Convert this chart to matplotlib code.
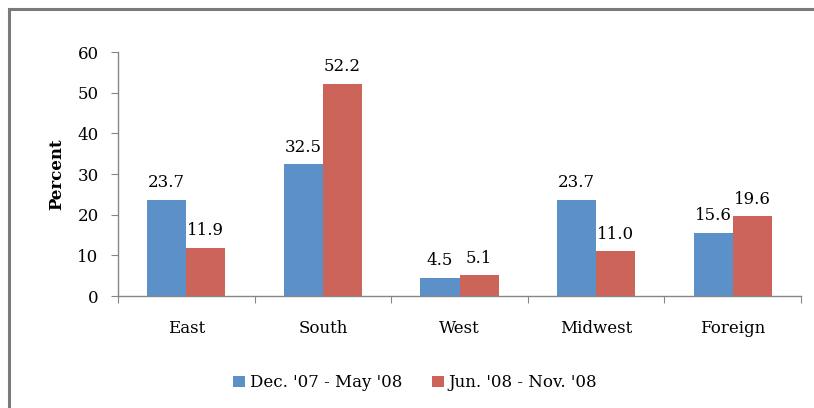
import matplotlib
matplotlib.use("Agg")
import matplotlib.pyplot as plt
from matplotlib.lines import Line2D
from matplotlib.patches import Patch
import numpy as np

categories = ["East", "South", "West", "Midwest", "Foreign"]
series_names = ["Dec. '07 - May '08", "Jun. '08 - Nov. '08"]
period1 = [23.7, 32.5, 4.5, 23.7, 15.6]
period2 = [11.9, 52.2, 5.1, 11.0, 19.6]
yticks = [0, 10, 20, 30, 40, 50, 60]

colors = ["#5B90C8", "#CC645A"]
font = ["DejaVu Serif"]
plt.rcParams["font.family"] = font
fs = 12

fig = plt.figure(figsize=(8.14, 4.08), dpi=100)
ax = fig.add_axes([0.145, 0.2745, 0.839, 0.598])

x = np.arange(len(categories))
w = 1 / 3.5
b1 = ax.bar(x - w / 2, period1, width=w, color=colors[0], edgecolor="none")
b2 = ax.bar(x + w / 2, period2, width=w, color=colors[1], edgecolor="none")
for bars, vals in ((b1, period1), (b2, period2)):
    for r, v in zip(bars, vals):
        ax.annotate(f"{v:.1f}", (r.get_x() + r.get_width() / 2, v), xytext=(0, 6),
                    textcoords="offset points", ha="center", va="bottom", fontsize=fs)

ax.set_xlim(-0.5, len(categories) - 0.5)
ax.set_ylim(0, 60)
ax.set_yticks(yticks)
ax.set_yticklabels([str(t) for t in yticks], fontsize=fs)
ax.set_xticks(np.arange(len(categories) + 1) - 0.5)
ax.set_xticklabels([])
ax.set_xticks(x, minor=True)
ax.set_xticklabels(categories, minor=True, fontsize=fs)
ax.tick_params(axis="x", which="minor", length=0, pad=17)
ax.tick_params(axis="x", which="major", length=5, color="#868686", direction="out")
ax.tick_params(axis="y", length=5, color="#868686", direction="out", pad=9)
for s in ["top", "right"]:
    ax.spines[s].set_visible(False)
for s in ["left", "bottom"]:
    ax.spines[s].set_color("#868686")
    ax.spines[s].set_linewidth(1.0)
ax.set_ylabel("Percent", fontsize=fs, fontweight="bold", labelpad=9)

handles = [Patch(facecolor=c, edgecolor="none") for c in colors]
fig.legend(handles, series_names, loc="center", bbox_to_anchor=(0.51, 0.062), ncol=2,
           frameon=False, fontsize=fs, handlelength=0.7, handleheight=0.7,
           handletextpad=0.3, columnspacing=1.8)

# outer frame (left and top edges visible)
fig.add_artist(Line2D([0.0115, 0.0115], [0, 0.978], transform=fig.transFigure,
                      color="#7a7a7a", lw=2.2))
fig.add_artist(Line2D([0.0115, 1.0], [0.978, 0.978], transform=fig.transFigure,
                      color="#7a7a7a", lw=2.2))

fig.savefig("out.png", dpi=100)
